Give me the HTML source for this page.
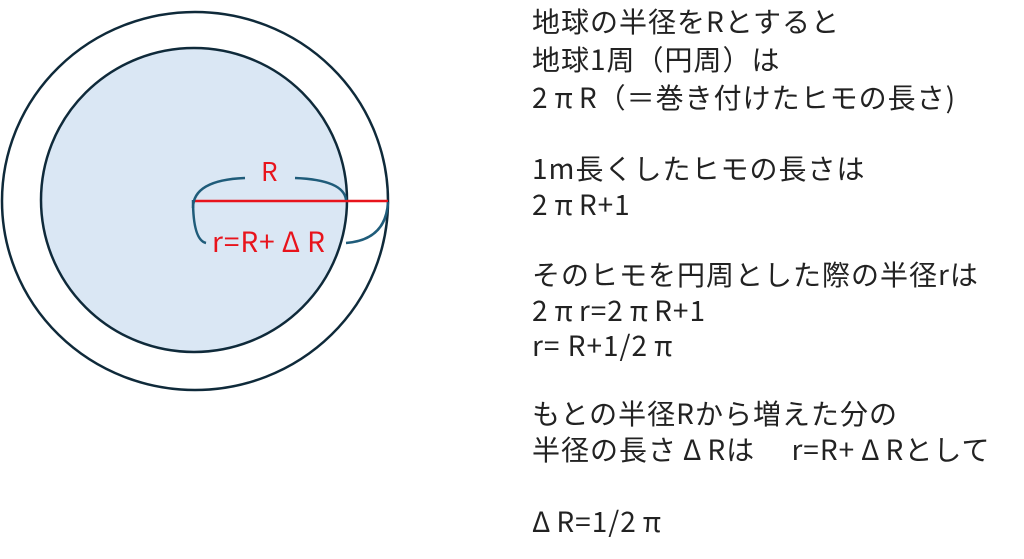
<!DOCTYPE html>
<html><head><meta charset="utf-8"><style>
body{margin:0;width:1024px;height:559px;background:#fff;position:relative;overflow:hidden;font-family:"Noto Sans CJK JP",sans-serif}
.t{position:absolute;left:532px;font-size:28px;line-height:32px;color:#222;white-space:nowrap;letter-spacing:1px;font-family:"Noto Sans CJK JP",sans-serif}
.g{margin:0 5px 0 6px}
.lab{position:absolute;color:#e8141c;font-size:26px;line-height:28px;white-space:nowrap;font-family:"Noto Sans CJK JP",sans-serif}
</style></head><body>
<svg width="1024" height="559" style="position:absolute;left:0;top:0">
<ellipse cx="195" cy="201" rx="193" ry="189" fill="#fff" stroke="#0f2a3a" stroke-width="2.5"/>
<ellipse cx="194" cy="200" rx="153" ry="152" fill="#dae7f4" stroke="#0f2a3a" stroke-width="2.5"/>
<line x1="193" y1="201" x2="388" y2="201" stroke="#e8141c" stroke-width="2.5"/>
<path d="M193 208 Q193 180 245 178" fill="none" stroke="#1f5c7a" stroke-width="2.5"/>
<path d="M295 178 Q344 180 346 200" fill="none" stroke="#1f5c7a" stroke-width="2.5"/>
<path d="M193 200 Q193 240 206 243" fill="none" stroke="#1f5c7a" stroke-width="2.5"/>
<path d="M346 243 Q386 240 388 202" fill="none" stroke="#1f5c7a" stroke-width="2.5"/>
</svg>
<div class="lab" style="left:261px;top:157px">R</div>
<div class="lab" style="left:212px;top:227px;font-size:28px;letter-spacing:1px">r=R+<span style="margin:0 6px 0 6px">Δ</span>R</div>
<div class="t" style="top:5px">地球の半径をRとすると</div>
<div class="t" style="top:43px">地球1周（円周）は</div>
<div class="t" style="top:81px">2<span class="g">π</span>R（＝巻き付けたヒモの長さ)</div>
<div class="t" style="top:152px">1m長くしたヒモの長さは</div>
<div class="t" style="top:188px">2<span class="g">π</span>R+1</div>
<div class="t" style="top:258px">そのヒモを円周とした際の半径rは</div>
<div class="t" style="top:294px">2<span class="g">π</span>r=2<span class="g">π</span>R+1</div>
<div class="t" style="top:329px">r= R+1/2<span class="g">π</span></div>
<div class="t" style="top:397px">もとの半径Rから増えた分の</div>
<div class="t" style="top:433px">半径の長さ<span class="g">Δ</span>Rは　 r=R+<span class="g">Δ</span>Rとして</div>
<div class="t" style="top:505px"><span class="g" style="margin-left:0">Δ</span>R=1/2<span class="g">π</span></div>
</body></html>
